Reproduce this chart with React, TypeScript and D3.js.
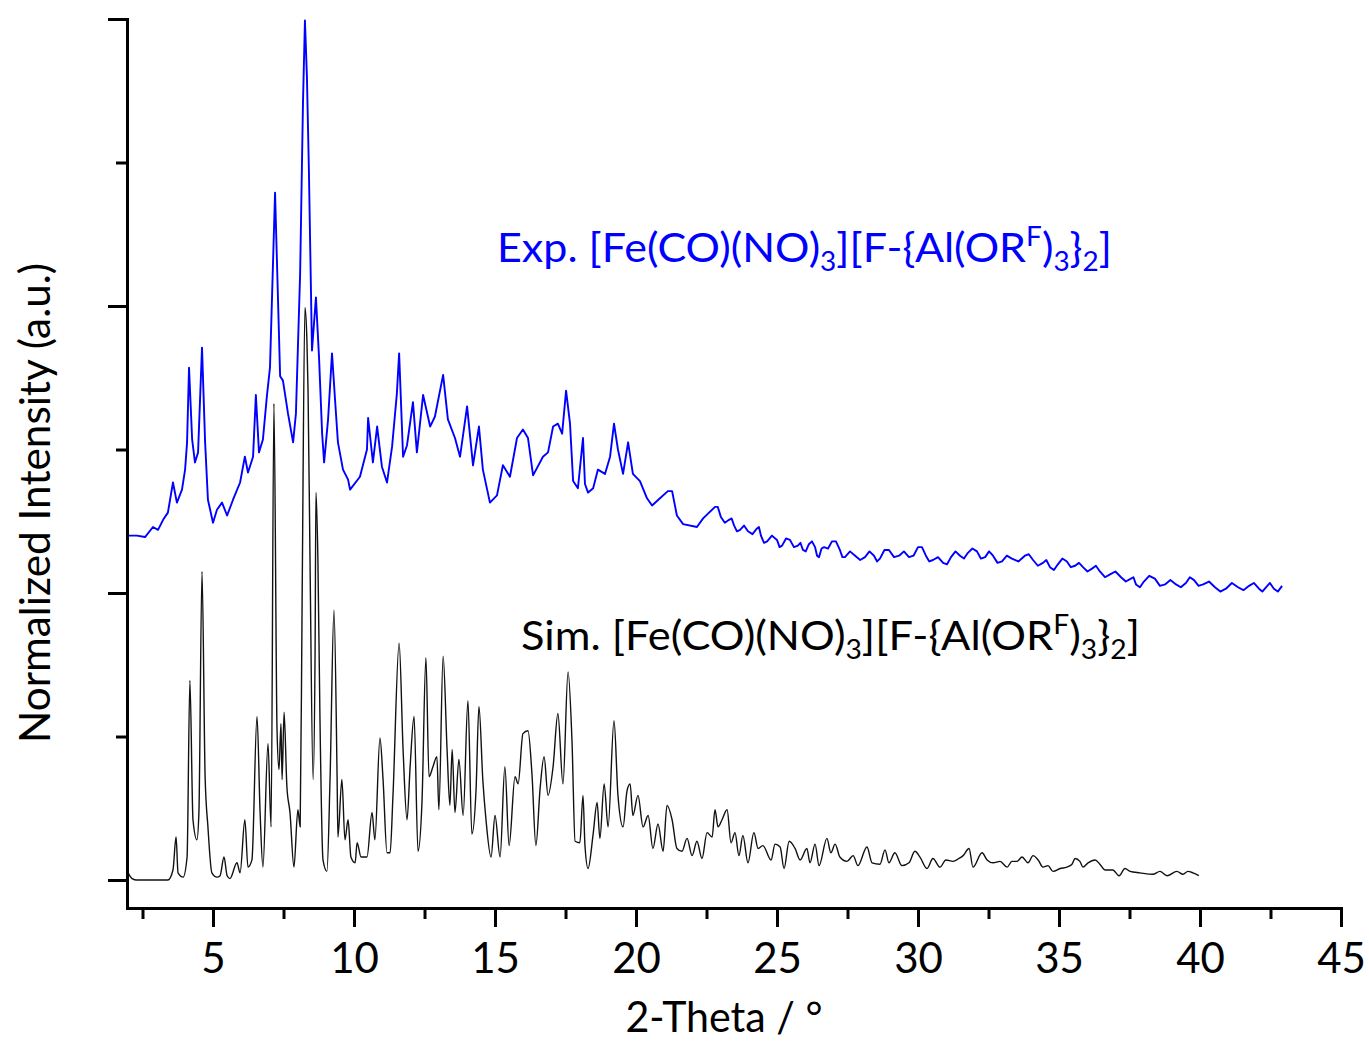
import React, { useRef, useEffect } from 'react';
import * as d3 from 'd3';

// [2-theta (deg), normalized intensity (a.u., offset)]
const expPattern: [number, number][] = [
  [1.99, 2.40], [2.30, 2.40], [2.59, 2.39], [2.87, 2.46], [3.05, 2.44], [3.23, 2.51], [3.40, 2.56],
  [3.58, 2.77], [3.72, 2.63], [3.90, 2.72], [4.01, 2.86], [4.08, 3.05], [4.15, 3.57], [4.26, 3.07],
  [4.36, 2.91], [4.47, 2.98], [4.61, 3.71], [4.72, 3.05], [4.82, 2.65], [5.00, 2.49], [5.14, 2.58],
  [5.32, 2.63], [5.50, 2.54], [5.71, 2.65], [5.96, 2.77], [6.13, 2.95], [6.24, 2.84], [6.42, 2.95],
  [6.52, 3.38], [6.63, 2.98], [6.77, 3.07], [6.91, 3.37], [7.02, 3.57], [7.20, 4.79], [7.38, 3.51],
  [7.48, 3.48], [7.66, 3.25], [7.84, 3.05], [7.94, 3.25], [8.09, 4.23], [8.19, 5.41], [8.26, 5.99],
  [8.33, 5.60], [8.40, 4.95], [8.51, 3.69], [8.65, 4.06], [8.76, 3.64], [8.87, 3.11], [8.94, 2.91],
  [9.08, 3.21], [9.22, 3.67], [9.33, 3.34], [9.43, 3.05], [9.61, 2.86], [9.79, 2.79], [9.86, 2.72],
  [10.21, 2.81], [10.46, 3.00], [10.50, 3.22], [10.67, 2.91], [10.82, 3.16], [10.99, 2.88],
  [11.17, 2.77], [11.35, 3.02], [11.52, 3.39], [11.60, 3.67], [11.74, 2.95], [11.88, 3.03],
  [12.09, 3.33], [12.23, 2.98], [12.45, 3.38], [12.70, 3.16], [12.87, 3.23], [13.16, 3.52],
  [13.33, 3.21], [13.58, 3.08], [13.76, 2.95], [14.01, 3.30], [14.22, 2.89], [14.43, 3.16],
  [14.57, 2.86], [14.82, 2.63], [15.07, 2.68], [15.28, 2.89], [15.53, 2.81], [15.78, 3.08],
  [15.99, 3.14], [16.17, 3.08], [16.35, 2.82], [16.70, 2.95], [16.88, 2.98], [17.06, 3.16],
  [17.23, 3.18], [17.38, 3.11], [17.52, 3.41], [17.66, 3.18], [17.77, 2.78], [17.94, 2.73],
  [18.12, 3.08], [18.19, 2.76], [18.30, 2.70], [18.48, 2.73], [18.65, 2.86], [18.90, 2.83],
  [19.08, 2.95], [19.22, 3.18], [19.36, 3.00], [19.54, 2.83], [19.72, 3.05], [19.89, 2.83],
  [20.14, 2.78], [20.39, 2.66], [20.57, 2.61], [20.85, 2.66], [21.13, 2.71], [21.28, 2.71],
  [21.45, 2.54], [21.67, 2.48], [22.16, 2.46], [22.38, 2.52], [22.80, 2.60], [22.90, 2.60],
  [23.01, 2.53], [23.15, 2.49], [23.30, 2.51], [23.39, 2.52], [23.48, 2.47], [23.58, 2.43],
  [23.69, 2.44], [23.83, 2.47], [23.97, 2.43], [24.13, 2.41], [24.29, 2.45], [24.36, 2.46],
  [24.43, 2.40], [24.54, 2.35], [24.65, 2.36], [24.82, 2.40], [25.00, 2.37], [25.09, 2.32],
  [25.18, 2.33], [25.32, 2.38], [25.46, 2.37], [25.60, 2.32], [25.74, 2.33], [25.83, 2.35],
  [25.92, 2.30], [26.02, 2.29], [26.13, 2.34], [26.24, 2.36], [26.35, 2.32], [26.42, 2.26],
  [26.49, 2.25], [26.58, 2.31], [26.67, 2.32], [26.81, 2.31], [26.95, 2.36], [27.09, 2.36],
  [27.23, 2.30], [27.32, 2.25], [27.41, 2.25], [27.59, 2.29], [27.77, 2.26], [27.95, 2.23],
  [28.12, 2.25], [28.28, 2.29], [28.44, 2.26], [28.55, 2.22], [28.65, 2.24], [28.81, 2.30],
  [28.97, 2.30], [29.15, 2.25], [29.33, 2.26], [29.50, 2.29], [29.68, 2.25], [29.84, 2.26],
  [30.00, 2.32], [30.14, 2.32], [30.28, 2.26], [30.40, 2.22], [30.53, 2.23], [30.71, 2.25],
  [30.89, 2.21], [31.03, 2.20], [31.17, 2.25], [31.33, 2.29], [31.49, 2.26], [31.63, 2.24],
  [31.77, 2.28], [31.93, 2.31], [32.09, 2.29], [32.23, 2.24], [32.38, 2.25], [32.52, 2.29],
  [32.66, 2.26], [32.82, 2.21], [32.98, 2.22], [33.15, 2.26], [33.33, 2.24], [33.56, 2.22],
  [33.79, 2.26], [33.93, 2.27], [34.08, 2.23], [34.25, 2.19], [34.43, 2.21], [34.55, 2.23],
  [34.68, 2.18], [34.82, 2.16], [34.96, 2.20], [35.12, 2.24], [35.28, 2.22], [35.42, 2.18],
  [35.57, 2.19], [35.71, 2.21], [35.85, 2.18], [36.01, 2.15], [36.17, 2.17], [36.31, 2.19],
  [36.45, 2.15], [36.63, 2.11], [36.81, 2.13], [37.00, 2.15], [37.20, 2.11], [37.37, 2.08],
  [37.55, 2.10], [37.64, 2.11], [37.73, 2.06], [37.87, 2.04], [38.01, 2.08], [38.20, 2.12],
  [38.40, 2.10], [38.58, 2.05], [38.76, 2.06], [38.95, 2.09], [39.15, 2.06], [39.32, 2.04],
  [39.50, 2.07], [39.64, 2.11], [39.79, 2.09], [39.95, 2.05], [40.11, 2.06], [40.32, 2.08],
  [40.53, 2.04], [40.72, 2.01], [40.92, 2.03], [41.13, 2.07], [41.35, 2.04], [41.54, 2.02],
  [41.74, 2.05], [41.91, 2.07], [42.09, 2.03], [42.21, 2.01], [42.34, 2.04], [42.48, 2.07],
  [42.62, 2.03], [42.76, 2.01], [42.91, 2.05],
];

const simPattern: [number, number][] = [
  [1.99, 0.05], [2.13, 0.01], [2.30, 0], [3.40, 0], [3.58, 0.07], [3.69, 0.30], [3.76, 0.05],
  [3.94, 0.02], [4.08, 0.16], [4.18, 1.39], [4.29, 0.42], [4.43, 0.28], [4.50, 0.47], [4.61, 2.15],
  [4.72, 0.72], [4.82, 0.37], [4.96, 0.05], [5.14, 0.02], [5.25, 0.03], [5.39, 0.16], [5.50, 0.03],
  [5.60, 0.01], [5.85, 0.12], [5.96, 0.05], [6.13, 0.42], [6.24, 0.09], [6.38, 0.14], [6.56, 1.14],
  [6.67, 0.47], [6.77, 0.09], [6.95, 0.95], [7.06, 0.37], [7.16, 3.32], [7.27, 1.05], [7.34, 0.77],
  [7.41, 1.09], [7.45, 0.70], [7.52, 1.17], [7.62, 0.65], [7.73, 0.47], [7.87, 0.09], [8.01, 0.49],
  [8.09, 0.37], [8.16, 1.95], [8.26, 3.99], [8.33, 3.76], [8.37, 3.41], [8.44, 2.23], [8.55, 0.70],
  [8.62, 1.60], [8.65, 2.70], [8.72, 2.23], [8.79, 1.16], [8.90, 0.14], [9.04, 0.06], [9.15, 0.70],
  [9.29, 1.88], [9.40, 0.72], [9.43, 0.30], [9.57, 0.70], [9.68, 0.28], [9.79, 0.42], [9.89, 0.16],
  [10.04, 0.12], [10.11, 0.26], [10.25, 0.16], [10.46, 0.16], [10.64, 0.47], [10.74, 0.28],
  [10.92, 0.99], [11.03, 0.70], [11.17, 0.19], [11.28, 0.19], [11.38, 0.58], [11.60, 1.65],
  [11.74, 0.91], [11.88, 0.42], [11.99, 0.79], [12.13, 1.14], [12.27, 0.20], [12.41, 0.54],
  [12.55, 1.55], [12.66, 0.72], [12.80, 0.79], [12.94, 0.86], [13.01, 0.49], [13.16, 1.56],
  [13.30, 0.91], [13.40, 0.52], [13.48, 0.91], [13.58, 0.47], [13.72, 0.84], [13.87, 0.45],
  [14.04, 1.25], [14.18, 0.32], [14.33, 0.64], [14.43, 1.21], [14.57, 0.69], [14.68, 0.42],
  [14.86, 0.16], [15.00, 0.45], [15.18, 0.16], [15.35, 0.79], [15.50, 0.24], [15.71, 0.72],
  [15.82, 0.67], [15.99, 1.02], [16.17, 1.04], [16.31, 0.74], [16.45, 0.24], [16.60, 0.64],
  [16.74, 0.86], [16.88, 0.59], [17.06, 0.79], [17.23, 1.16], [17.41, 0.67], [17.59, 1.45],
  [17.73, 0.97], [17.84, 0.27], [18.01, 0.26], [18.12, 0.59], [18.19, 0.24], [18.30, 0.08],
  [18.48, 0.32], [18.62, 0.54], [18.72, 0.29], [18.87, 0.67], [19.01, 0.37], [19.22, 1.11],
  [19.36, 0.59], [19.54, 0.37], [19.68, 0.62], [19.79, 0.67], [19.89, 0.45], [20.07, 0.59],
  [20.25, 0.37], [20.43, 0.45], [20.60, 0.22], [20.78, 0.39], [20.96, 0.20], [21.10, 0.52],
  [21.28, 0.42], [21.45, 0.22], [21.63, 0.20], [21.81, 0.29], [21.99, 0.17], [22.16, 0.27],
  [22.34, 0.15], [22.52, 0.33], [22.70, 0.30], [22.80, 0.49], [22.91, 0.37], [23.05, 0.42],
  [23.23, 0.49], [23.37, 0.26], [23.51, 0.33], [23.65, 0.17], [23.79, 0.31], [23.97, 0.12],
  [24.18, 0.33], [24.33, 0.22], [24.50, 0.24], [24.79, 0.14], [24.93, 0.25], [25.11, 0.23],
  [25.25, 0.08], [25.43, 0.27], [25.64, 0.22], [25.82, 0.14], [26.06, 0.22], [26.17, 0.12],
  [26.35, 0.25], [26.49, 0.10], [26.77, 0.29], [26.91, 0.19], [27.06, 0.25], [27.23, 0.16],
  [27.48, 0.13], [27.70, 0.17], [27.87, 0.10], [28.19, 0.23], [28.37, 0.12], [28.65, 0.11],
  [28.83, 0.21], [28.97, 0.12], [29.18, 0.19], [29.43, 0.10], [29.68, 0.12], [29.89, 0.20],
  [30.07, 0.16], [30.32, 0.08], [30.53, 0.15], [30.78, 0.09], [30.99, 0.14], [31.24, 0.13],
  [31.45, 0.15], [31.60, 0.17], [31.81, 0.22], [31.95, 0.09], [32.27, 0.19], [32.45, 0.14],
  [32.66, 0.12], [32.91, 0.13], [33.16, 0.09], [33.33, 0.13], [33.51, 0.13], [33.69, 0.16],
  [33.90, 0.12], [34.08, 0.17], [34.26, 0.14], [34.43, 0.09], [34.61, 0.10], [34.79, 0.06],
  [35.04, 0.08], [35.28, 0.09], [35.46, 0.11], [35.57, 0.15], [35.74, 0.13], [35.85, 0.09],
  [36.03, 0.12], [36.28, 0.14], [36.45, 0.11], [36.63, 0.07], [36.91, 0.07], [37.13, 0.03],
  [37.34, 0.08], [37.52, 0.06], [37.87, 0.05], [38.33, 0.04], [38.58, 0.06], [38.83, 0.03],
  [39.18, 0.06], [39.40, 0.04], [39.57, 0.06], [39.75, 0.05], [39.96, 0.03],
];

const xMajorTicks = [5, 10, 15, 20, 25, 30, 35, 40, 45];
const xMinorTicks = [2.5, 7.5, 12.5, 17.5, 22.5, 27.5, 32.5, 37.5, 42.5];
const yMajorTicks = [0, 2, 4, 6];
const yMinorTicks = [1, 3, 5];

const xTitle = '2-Theta / °';
const yTitle = 'Normalized Intensity (a.u.)';

const FONT = 'Lato, "Open Sans", sans-serif';

function addFormula(g, prefix, x, y, color, len) {
  const t = g.append('text')
    .attr('x', x)
    .attr('y', y)
    .attr('fill', color)
    .attr('font-size', 40)
    .attr('textLength', len)
    .attr('lengthAdjust', 'spacingAndGlyphs');
  const sub = 26;
  t.append('tspan').text(`${prefix} [Fe(CO)(NO)`);
  t.append('tspan').attr('dy', 9).attr('font-size', sub).text('3');
  t.append('tspan').attr('dy', -9).text('][F-{Al(OR');
  t.append('tspan').attr('dy', -16).attr('font-size', sub).text('F');
  t.append('tspan').attr('dy', 16).text(')');
  t.append('tspan').attr('dy', 9).attr('font-size', sub).text('3');
  t.append('tspan').attr('dy', -9).text('}');
  t.append('tspan').attr('dy', 9).attr('font-size', sub).text('2');
  t.append('tspan').attr('dy', -9).text(']');
}

function XrdChart({ width = 1369, height = 1042 }) {
  const svgRef = useRef<SVGSVGElement>(null);

  useEffect(() => {
    const svg = d3.select(svgRef.current);
    svg.selectAll('*').remove();

    const x = d3.scaleLinear().domain([1.95, 45]).range([127, 1341]);
    const y = d3.scaleLinear().domain([-0.195, 6]).range([908, 19]);

    const g = svg.append('g').attr('font-family', FONT);

    // simulated pattern: smooth peak tops
    g.append('path')
      .datum(simPattern)
      .attr('fill', 'none')
      .attr('stroke', '#111')
      .attr('stroke-width', 1.4)
      .attr('stroke-linejoin', 'round')
      .attr('d', d3.line<[number, number]>()
        .x(d => x(d[0]))
        .y(d => y(d[1]))
        .curve(d3.curveMonotoneX));

    // experimental pattern: noisy, straight segments
    g.append('path')
      .datum(expPattern)
      .attr('fill', 'none')
      .attr('stroke', '#0000ff')
      .attr('stroke-width', 1.9)
      .attr('stroke-linejoin', 'round')
      .attr('d', d3.line<[number, number]>()
        .x(d => x(d[0]))
        .y(d => y(d[1])));

    // X axis
    const xAxis = g.append('g')
      .attr('transform', `translate(0, ${y.range()[0]})`)
      .call(d3.axisBottom(x).tickValues(xMajorTicks).tickSize(19).tickSizeOuter(0).tickPadding(16)
        .tickFormat(d3.format('d')));
    xAxis.attr('font-family', FONT).attr('font-size', 42);
    xAxis.select('.domain').attr('stroke-width', 3).attr('stroke-linecap', 'square');
    xAxis.selectAll('.tick line').attr('stroke-width', 3);
    xAxis.selectAll('.tick text').attr('fill', '#000');

    g.append('g')
      .attr('transform', `translate(0, ${y.range()[0]})`)
      .call(d3.axisBottom(x).tickValues(xMinorTicks).tickSize(11).tickFormat(() => ''))
      .call(a => a.select('.domain').remove())
      .selectAll('.tick line').attr('stroke-width', 3);

    // Y axis
    const yAxis = g.append('g')
      .attr('transform', `translate(${x.range()[0]}, 0)`)
      .call(d3.axisLeft(y).tickValues(yMajorTicks).tickSize(19).tickSizeOuter(0).tickFormat(() => ''));
    yAxis.select('.domain').attr('stroke-width', 3).attr('stroke-linecap', 'square');
    yAxis.selectAll('.tick line').attr('stroke-width', 3);

    g.append('g')
      .attr('transform', `translate(${x.range()[0]}, 0)`)
      .call(d3.axisLeft(y).tickValues(yMinorTicks).tickSize(11).tickFormat(() => ''))
      .call(a => a.select('.domain').remove())
      .selectAll('.tick line').attr('stroke-width', 3);

    // titles
    g.append('text')
      .attr('x', 724)
      .attr('y', 1032)
      .attr('text-anchor', 'middle')
      .attr('font-size', 42)
      .attr('textLength', 197)
      .attr('lengthAdjust', 'spacingAndGlyphs')
      .text(xTitle);

    g.append('text')
      .attr('transform', 'translate(50, 503) rotate(-90)')
      .attr('text-anchor', 'middle')
      .attr('font-size', 42)
      .attr('textLength', 480)
      .attr('lengthAdjust', 'spacingAndGlyphs')
      .text(yTitle);

    // series labels
    addFormula(g, 'Exp.', 497, 262, '#0000ff', 615);
    addFormula(g, 'Sim.', 521, 650, '#000', 619);
  }, [width, height]);

  return (
    <svg
      ref={svgRef}
      width={width}
      height={height}
      style={{ position: 'absolute', left: 0, top: 0, background: '#fff' }}
    />
  );
}

export default function App() {
  return <XrdChart />;
}
